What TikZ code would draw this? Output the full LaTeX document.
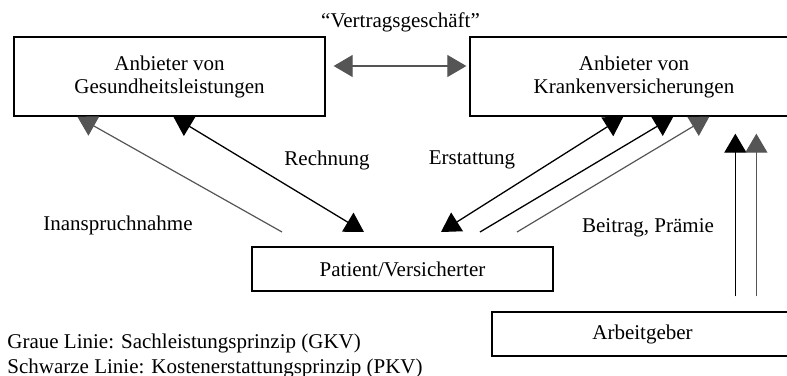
\documentclass[tikz,border=0pt]{standalone}
\usepackage{fontspec}
\setmainfont{Liberation Serif}
\usepackage{tikz}
\usetikzlibrary{arrows.meta}

\definecolor{grau}{RGB}{85, 85, 85}

\tikzset{
    box/.style = {draw, line width = 0.65pt, align = center, inner sep = 0pt},
    grauline/.style = {grau, line width = 0.6pt},
    schwarzline/.style = {black, line width = 0.65pt},
    >={Triangle[width = 11pt, length = 9.5pt]}
}

\begin{document}
\begin{tikzpicture}[x = 0.5pt, y = -0.5pt, font = \fontsize{10.5}{11.5}\selectfont]
    \useasboundingbox (0, 0) rectangle (787, 375);
    \clip (0, 0) rectangle (787, 375);

    \node [box, minimum width = 155.5pt, minimum height = 39.5pt] (gesund) at (169.5, 76.5) {Anbieter von\\Gesundheitsleistungen};
    \node [box, minimum width = 164pt, minimum height = 39.5pt] (kranken) at (634, 76.5) {Anbieter von\\Krankenversicherungen};
    \node [box, minimum width = 150.5pt, minimum height = 22pt] (patient) at (402.5, 269) {Patient/Versicherter};
    \node [box, minimum width = 150.5pt, minimum height = 22pt] (arbeit) at (642.5, 334) {Arbeitgeber};

    \node (vertrag) at (400.5, 22) {“Vertragsgeschäft”};
    \node (rechnung) at (327, 160) {Rechnung};
    \node (erstattung) at (472, 160) {Erstattung};
    \node (inanspruch) at (118, 225) {Inanspruchnahme};
    \node (beitrag) at (648, 228) {Beitrag, Prämie};
    \node [anchor = west, inner sep = 0pt] (grau) at (7, 343) {Graue Linie: Sachleistungsprinzip (GKV)};
    \node [anchor = west, inner sep = 0pt] (schwarz) at (7, 368) {Schwarze Linie: Kostenerstattungsprinzip (PKV)};

    % free lower ends above the patient box
    \coordinate (inan) at (282, 232);
    \coordinate (rech) at (364, 232);
    \coordinate (erst) at (441, 232);
    \coordinate (beitrA) at (480, 232);
    \coordinate (beitrB) at (517, 232);

    \draw [grauline, <->] ([xshift = 4pt, yshift = 5.25pt] gesund.east) -- ([xshift = -1.5pt, yshift = 5.25pt] kranken.west);

    \draw [grauline, ->] (inan) -- ([xshift = 32pt] gesund.south west);
    \draw [schwarzline, <->] (rech) -- ([xshift = 80pt] gesund.south west);
    \draw [schwarzline, <->] (erst) -- ([xshift = 77pt] kranken.south west);
    \draw [schwarzline, ->] (beitrA) -- ([xshift = 102pt] kranken.south west);
    \draw [grauline, ->] (beitrB) -- ([xshift = 120pt] kranken.south west);

    \draw [schwarzline, ->, shorten < = 7.5pt, shorten > = 8.5pt] ([xshift = 122pt] arbeit.north west) -- ([xshift = 133pt] kranken.south west);
    \draw [grauline, line width = 0.65pt, ->, shorten < = 7.5pt, shorten > = 8.5pt] ([xshift = 132.5pt] arbeit.north west) -- ([xshift = 143.5pt] kranken.south west);
\end{tikzpicture}
\end{document}
